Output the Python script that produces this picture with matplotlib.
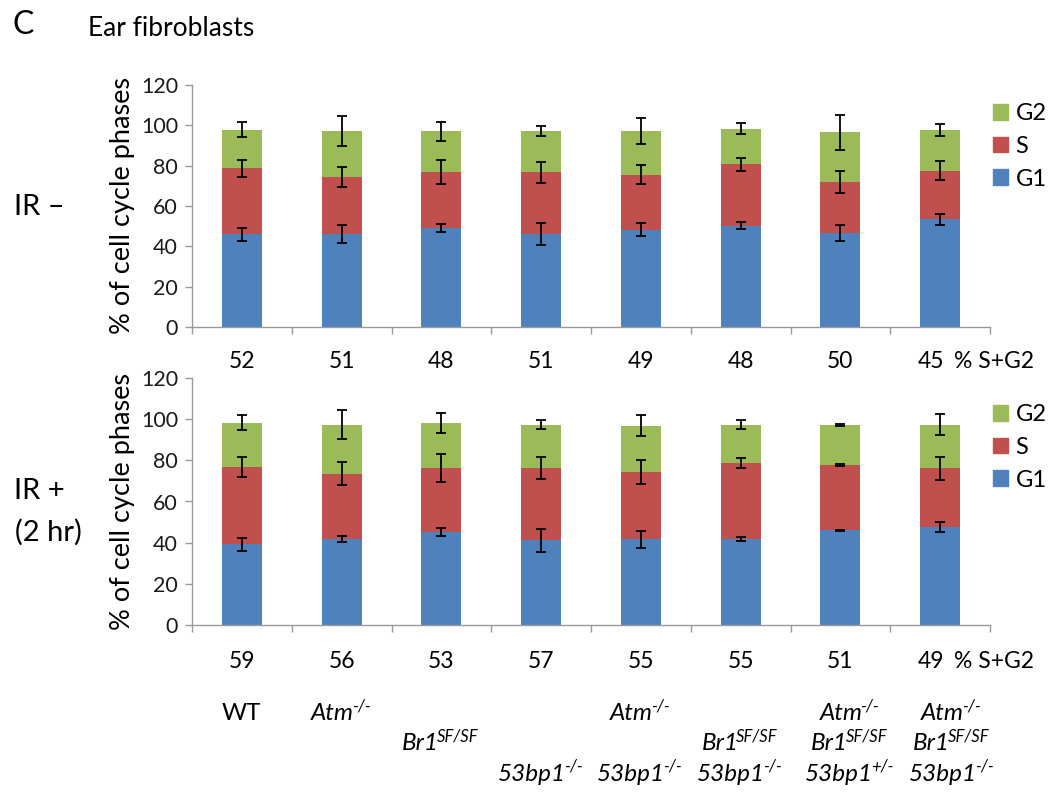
import matplotlib
matplotlib.use("Agg")
import matplotlib.pyplot as plt
from matplotlib.patches import Patch
import numpy as np

plt.rcParams['font.family'] = ['Lato', 'DejaVu Sans']

# ---------------- data ----------------
categories = ['WT', 'Atm-/-', 'Br1SF/SF', '53bp1-/-', 'Atm-/- 53bp1-/-',
              'Br1SF/SF 53bp1-/-', 'Atm-/- Br1SF/SF 53bp1+/-', 'Atm-/- Br1SF/SF 53bp1-/-']
phases = ['G1', 'S', 'G2']

# IR - (top)
top_g1 = [46.0, 46.0, 49.0, 46.0, 48.3, 50.3, 46.5, 53.4]
top_s = [32.8, 28.3, 27.8, 30.8, 27.3, 30.4, 25.3, 24.2]
top_g2 = [19.0, 22.8, 20.3, 20.3, 21.5, 17.7, 24.8, 20.2]
top_g1_err = [3.2, 4.5, 1.9, 5.4, 3.1, 1.6, 4.1, 2.6]
top_s_err = [4.2, 5.1, 6.1, 5.2, 4.7, 3.3, 5.6, 4.6]
top_g2_err = [3.7, 7.4, 4.7, 2.6, 6.3, 2.6, 8.7, 3.1]
top_sg2 = ['52', '51', '48', '51', '49', '48', '50', '45']

# IR + (2 hr) (bottom)
bot_g1 = [39.2, 41.6, 45.1, 41.1, 41.6, 41.6, 46.0, 47.7]
bot_s = [37.6, 32.0, 31.1, 35.1, 32.7, 36.9, 31.8, 28.4]
bot_g2 = [21.4, 23.8, 22.0, 21.2, 22.4, 18.9, 19.3, 21.3]
bot_g1_err = [3.2, 1.5, 1.8, 5.6, 4.0, 1.0, 0.3, 2.5]
bot_s_err = [4.7, 5.7, 6.9, 5.3, 5.8, 2.4, 0.5, 5.5]
bot_g2_err = [3.7, 6.9, 4.9, 2.3, 5.1, 2.0, 0.5, 5.1]
bot_sg2 = ['59', '56', '53', '57', '55', '55', '51', '49']

yticks = [0, 20, 40, 60, 80, 100, 120]

# genotype label rows: (main text, superscript)
row_atm = [('WT', ''), ('Atm', '-/-'), ('', ''), ('', ''), ('Atm', '-/-'),
           ('', ''), ('Atm', '-/-'), ('Atm', '-/-')]
row_br1 = [('', ''), ('', ''), ('Br1', 'SF/SF'), ('', ''), ('', ''),
           ('Br1', 'SF/SF'), ('Br1', 'SF/SF'), ('Br1', 'SF/SF')]
row_53 = [('', ''), ('', ''), ('', ''), ('53bp1', '-/-'), ('53bp1', '-/-'),
          ('53bp1', '-/-'), ('53bp1', '+/-'), ('53bp1', '-/-')]

# ---------------- style ----------------
c_g1, c_s, c_g2 = '#4F81BD', '#C0504D', '#9BBB59'
spine_c = '#999999'
W, H = 1050, 797

fig = plt.figure(figsize=(W / 100, H / 100), dpi=100)


def fx(x):
    return x / W


def fy(y):
    return 1 - y / H


def make_panel(top_px, bottom_px, g1, s, g2, e1, es, e2, leg_top_px):
    ax = fig.add_axes([fx(192), fy(bottom_px), fx(990) - fx(192), fy(top_px) - fy(bottom_px)])
    x = np.arange(len(g1)) + 0.5
    g1 = np.array(g1); s = np.array(s); g2 = np.array(g2)
    bw = 0.40
    ax.bar(x, g1, bw, color=c_g1, zorder=2)
    ax.bar(x, s, bw, bottom=g1, color=c_s, zorder=2)
    ax.bar(x, g2, bw, bottom=g1 + s, color=c_g2, zorder=2)
    ekw = dict(fmt='none', ecolor='black', elinewidth=1.3, capsize=3.5, capthick=1.3, zorder=3)
    ax.errorbar(x, g1, yerr=e1, **ekw)
    ax.errorbar(x, g1 + s, yerr=es, **ekw)
    ax.errorbar(x, g1 + s + g2, yerr=e2, **ekw)
    ax.set_xlim(0, len(g1))
    ax.set_ylim(0, 120)
    ax.set_yticks(yticks)
    ax.set_yticklabels([str(t) for t in yticks], fontsize=15.5)
    ax.set_xticks(np.arange(len(g1) + 1))
    ax.set_xticklabels([])
    for sp in ['top', 'right']:
        ax.spines[sp].set_visible(False)
    for sp in ['left', 'bottom']:
        ax.spines[sp].set_color(spine_c)
        ax.spines[sp].set_linewidth(1.0)
    ax.tick_params(axis='both', direction='out', length=5, width=1.0, color=spine_c, pad=5)
    ax.tick_params(axis='y', labelcolor='#1a1a1a')
    ax.set_ylabel('% of cell cycle phases', fontsize=19.5, labelpad=4)
    handles = [Patch(color=c_g2, label='G2'), Patch(color=c_s, label='S'), Patch(color=c_g1, label='G1')]
    ax.legend(handles=handles, loc='upper left',
              bbox_to_anchor=(fx(993), fy(leg_top_px)), bbox_transform=fig.transFigure,
              frameon=False, fontsize=17, handlelength=0.65, handleheight=0.65,
              handletextpad=0.3, labelspacing=0.5, borderaxespad=0, borderpad=0)
    return ax


ax1 = make_panel(85, 327, top_g1, top_s, top_g2, top_g1_err, top_s_err, top_g2_err, 103)
ax2 = make_panel(378, 625, bot_g1, bot_s, bot_g2, bot_g1_err, bot_s_err, bot_g2_err, 404)


def data_to_figx(ax, xd):
    disp = ax.transData.transform((xd, 0))
    return fig.transFigure.inverted().transform(disp)[0]


# % S+G2 rows
num_shift = [0, 0, 0, 0, 0, 0, 0, -0.09]
for ax, vals, ypx in [(ax1, top_sg2, 362), (ax2, bot_sg2, 662)]:
    for i, v in enumerate(vals):
        fig.text(data_to_figx(ax, i + 0.5 + num_shift[i]), fy(ypx), v,
                 ha='center', va='center', fontsize=16.5)
    fig.text(fx(954), fy(ypx), '% S+G2', ha='left', va='center', fontsize=16.5)

# genotype labels (baseline placement, superscript raised)
col_shift = [0, 0, 0, 0, 0, 0, 0.1, 0.12]
pairs = []
for row, ypx in [(row_atm, 712), (row_br1, 742), (row_53, 773)]:
    base = ypx + 8
    for i, (main, sup) in enumerate(row):
        if not main:
            continue
        xf = data_to_figx(ax2, i + 0.5 + col_shift[i])
        style = 'normal' if main == 'WT' else 'italic'
        t = fig.text(xf, fy(base), main, ha='center', va='baseline', fontsize=17.5, style=style)
        if sup:
            st = fig.text(0, fy(base - 9), sup, fontsize=12, style='italic',
                          ha='left', va='baseline')
            pairs.append((t, st, xf))

fig.canvas.draw()
r = fig.canvas.get_renderer()
for t, st, xf in pairs:
    wm = t.get_window_extent(r).width
    ws = st.get_window_extent(r).width
    cx = xf * W
    left = cx - (wm + ws) / 2
    t.set_ha('left')
    t.set_x(left / W)
    st.set_x((left + wm - 2) / W)

# side / title texts
fig.text(fx(23), fy(25), 'C', fontsize=23, ha='center', va='center')
fig.text(fx(88), fy(29), 'Ear fibroblasts', fontsize=19, ha='left', va='center')
fig.text(fx(14), fy(207), 'IR \u2013', fontsize=21, ha='left', va='center')
fig.text(fx(14), fy(491), 'IR +', fontsize=21, ha='left', va='center')
fig.text(fx(15), fy(532), '(2 hr)', fontsize=21, ha='left', va='center')

fig.savefig('out.png', dpi=100)
